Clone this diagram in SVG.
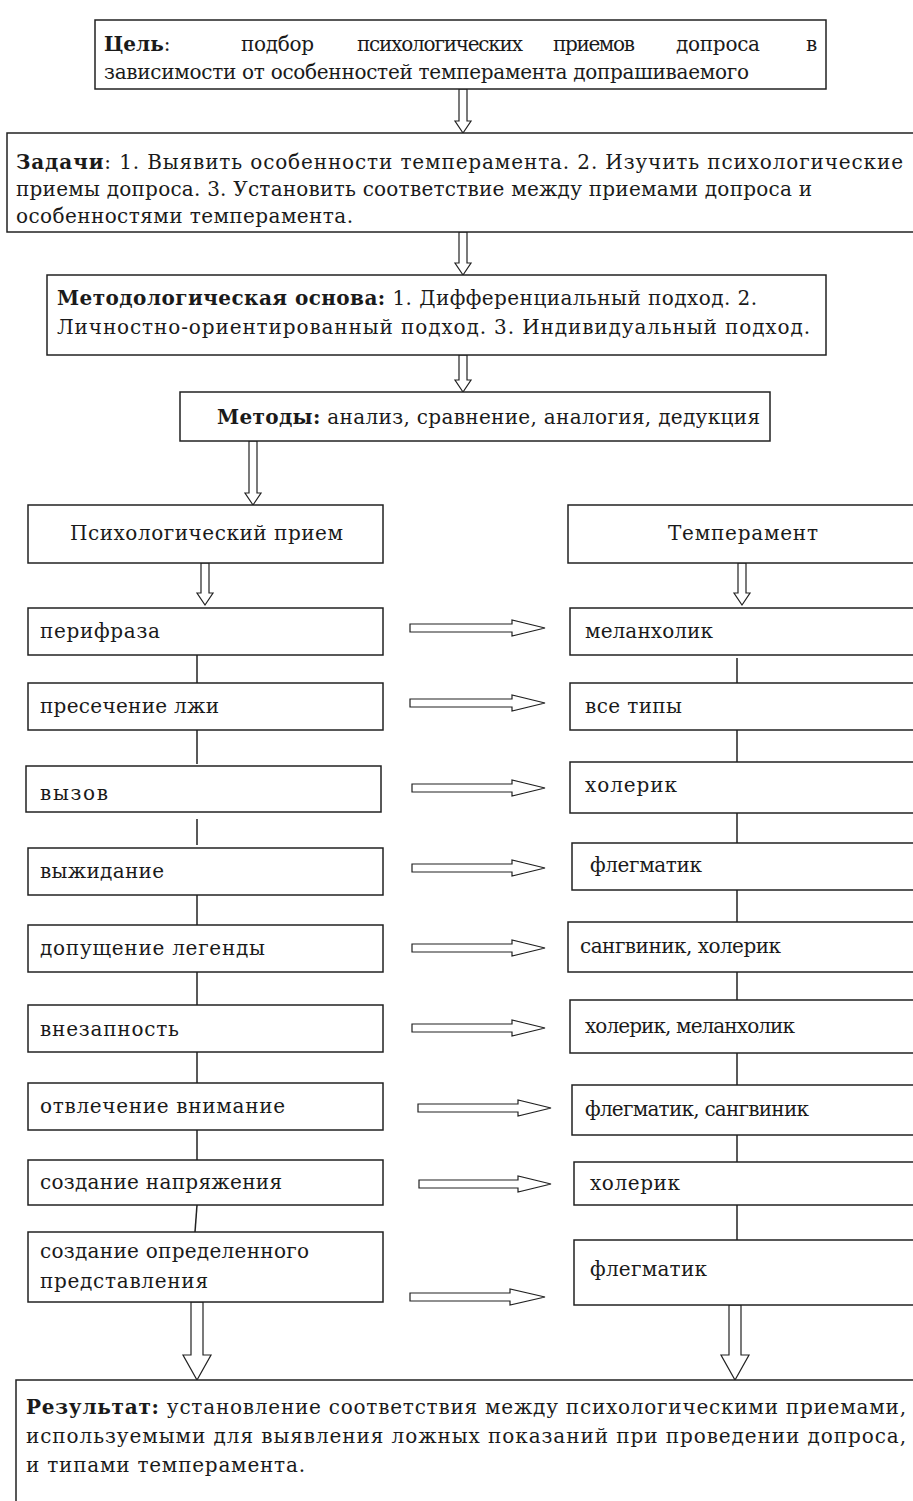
<svg xmlns="http://www.w3.org/2000/svg" width="913" height="1501" viewBox="0 0 913 1501">
<style>
.b{fill:#fff;stroke:#222;stroke-width:1.5}
.t{font-family:"DejaVu Serif","Liberation Serif",serif;font-size:20px;fill:#1a1a1a}
.bd{font-weight:bold}
.ar{fill:#fff;stroke:#222;stroke-width:1.2}
.ln{stroke:#222;stroke-width:1.5;fill:none}
</style>
<rect width="913" height="1501" fill="#fff"/>
<g id="connectors">
<polygon class="ar" points="459,89 467,89 467,121 471,121 463,133 455,121 459,121"/>
<polygon class="ar" points="459,232 467,232 467,263 471,263 463,275 455,263 459,263"/>
<polygon class="ar" points="459,355 467,355 467,380 471,380 463,392 455,380 459,380"/>
<polygon class="ar" points="249,441 257,441 257,493 261,493 253,505 245,493 249,493"/>
<polygon class="ar" points="201,563 209,563 209,593 213,593 205,605 197,593 201,593"/>
<polygon class="ar" points="738,563 746,563 746,593 750,593 742,605 734,593 738,593"/>
<polygon class="ar" points="410,624 512,624 512,620 545,628 512,636 512,632 410,632"/>
<polygon class="ar" points="410,699 512,699 512,695 545,703 512,711 512,707 410,707"/>
<polygon class="ar" points="412,784 512,784 512,780 545,788 512,796 512,792 412,792"/>
<polygon class="ar" points="412,864 512,864 512,860 545,868 512,876 512,872 412,872"/>
<polygon class="ar" points="412,944 512,944 512,940 545,948 512,956 512,952 412,952"/>
<polygon class="ar" points="412,1024 512,1024 512,1020 545,1028 512,1036 512,1032 412,1032"/>
<polygon class="ar" points="418,1104 518,1104 518,1100 551,1108 518,1116 518,1112 418,1112"/>
<polygon class="ar" points="419,1180 518,1180 518,1176 551,1184 518,1192 518,1188 419,1188"/>
<polygon class="ar" points="410,1293 510,1293 510,1289 545,1297 510,1305 510,1301 410,1301"/>
<polygon class="ar" points="191,1302 203,1302 203,1355 211,1355 197,1380 183,1355 191,1355"/>
<polygon class="ar" points="729,1305 741,1305 741,1355 749,1355 735,1380 721,1355 729,1355"/>
<line class="ln" x1="197" y1="655" x2="197" y2="683"/>
<line class="ln" x1="197" y1="730" x2="197" y2="764"/>
<line class="ln" x1="197" y1="819" x2="197" y2="845"/>
<line class="ln" x1="197" y1="895" x2="197" y2="925"/>
<line class="ln" x1="197" y1="972" x2="197" y2="1005"/>
<line class="ln" x1="197" y1="1052" x2="197" y2="1083"/>
<line class="ln" x1="197" y1="1130" x2="197" y2="1160"/>
<line class="ln" x1="197" y1="1205" x2="195" y2="1232"/>
<line class="ln" x1="737" y1="658" x2="737" y2="683"/>
<line class="ln" x1="737" y1="730" x2="737" y2="762"/>
<line class="ln" x1="737" y1="813" x2="737" y2="843"/>
<line class="ln" x1="737" y1="890" x2="737" y2="922"/>
<line class="ln" x1="737" y1="972" x2="737" y2="1000"/>
<line class="ln" x1="737" y1="1053" x2="737" y2="1085"/>
<line class="ln" x1="737" y1="1135" x2="737" y2="1162"/>
<line class="ln" x1="737" y1="1205" x2="737" y2="1240"/>
</g>
<g id="goal">
<rect class="b" x="95" y="20" width="731" height="69"/>
<text class="t" x="104" y="51"><tspan class="bd">Цель</tspan>:</text>
<text class="t" x="241" y="51" textLength="73">подбор</text>
<text class="t" x="357" y="51" textLength="166">психологических</text>
<text class="t" x="553" y="51" textLength="82">приемов</text>
<text class="t" x="676" y="51" textLength="84">допроса</text>
<text class="t" x="806" y="51">в</text>
<text class="t" x="104" y="79" textLength="645">зависимости от особенностей темперамента допрашиваемого</text>
</g>
<g id="tasks">
<rect class="b" x="7" y="133" width="920" height="99"/>
<text class="t" x="16" y="169" textLength="887"><tspan class="bd">Задачи</tspan>: 1. Выявить особенности темперамента.  2. Изучить психологические</text>
<text class="t" x="16" y="196" textLength="796">приемы допроса.  3. Установить соответствие между приемами допроса и</text>
<text class="t" x="16" y="223" textLength="337">особенностями темперамента.</text>
</g>
<g id="method-basis">
<rect class="b" x="47" y="275" width="779" height="80"/>
<text class="t" x="57" y="305" textLength="700"><tspan class="bd">Методологическая основа:</tspan> 1. Дифференциальный подход. 2.</text>
<text class="t" x="57" y="334" textLength="753">Личностно-ориентированный подход. 3. Индивидуальный подход.</text>
</g>
<g id="methods">
<rect class="b" x="180" y="392" width="590" height="49"/>
<text class="t" x="217" y="424" textLength="543"><tspan class="bd">Методы:</tspan> анализ, сравнение, аналогия, дедукция</text>
</g>
<g id="h-technique">
<rect class="b" x="28" y="505" width="355" height="58"/>
<text class="t" x="70" y="540" textLength="273">Психологический прием</text>
</g>
<g id="h-temperament">
<rect class="b" x="568" y="505" width="360" height="58"/>
<text class="t" x="668" y="540" textLength="150">Темперамент</text>
</g>
<g id="l1"><rect class="b" x="28" y="608" width="355" height="47"/><text class="t" x="40" y="638" textLength="120">перифраза</text></g>
<g id="l2"><rect class="b" x="28" y="683" width="355" height="47"/><text class="t" x="40" y="713" textLength="179">пресечение лжи</text></g>
<g id="l3"><rect class="b" x="26" y="766" width="355" height="46"/><text class="t" x="40" y="800" textLength="68">вызов</text></g>
<g id="l4"><rect class="b" x="28" y="848" width="355" height="47"/><text class="t" x="40" y="878" textLength="124">выжидание</text></g>
<g id="l5"><rect class="b" x="28" y="925" width="355" height="47"/><text class="t" x="40" y="955" textLength="225">допущение легенды</text></g>
<g id="l6"><rect class="b" x="28" y="1005" width="355" height="47"/><text class="t" x="40" y="1036" textLength="139">внезапность</text></g>
<g id="l7"><rect class="b" x="28" y="1083" width="355" height="47"/><text class="t" x="40" y="1113" textLength="245">отвлечение внимание</text></g>
<g id="l8"><rect class="b" x="28" y="1160" width="355" height="45"/><text class="t" x="40" y="1189" textLength="242">создание напряжения</text></g>
<g id="l9"><rect class="b" x="28" y="1232" width="355" height="70"/><text class="t" x="40" y="1258" textLength="269">создание определенного</text><text class="t" x="40" y="1288" textLength="168">представления</text></g>
<g id="r1"><rect class="b" x="570" y="608" width="360" height="47"/><text class="t" x="585" y="638" textLength="128">меланхолик</text></g>
<g id="r2"><rect class="b" x="570" y="683" width="360" height="47"/><text class="t" x="585" y="713" textLength="97">все типы</text></g>
<g id="r3"><rect class="b" x="570" y="762" width="360" height="51"/><text class="t" x="585" y="792" textLength="92">холерик</text></g>
<g id="r4"><rect class="b" x="572" y="843" width="360" height="47"/><text class="t" x="590" y="872" textLength="112">флегматик</text></g>
<g id="r5"><rect class="b" x="568" y="922" width="360" height="50"/><text class="t" x="580" y="953" textLength="201">сангвиник, холерик</text></g>
<g id="r6"><rect class="b" x="570" y="1000" width="360" height="53"/><text class="t" x="585" y="1033" textLength="210">холерик, меланхолик</text></g>
<g id="r7"><rect class="b" x="572" y="1085" width="360" height="50"/><text class="t" x="585" y="1116" textLength="224">флегматик, сангвиник</text></g>
<g id="r8"><rect class="b" x="574" y="1162" width="360" height="43"/><text class="t" x="590" y="1190" textLength="90">холерик</text></g>
<g id="r9"><rect class="b" x="574" y="1240" width="360" height="65"/><text class="t" x="590" y="1276" textLength="117">флегматик</text></g>
<g id="result">
<rect class="b" x="16" y="1380" width="920" height="140"/>
<text class="t" x="26" y="1414" textLength="880"><tspan class="bd">Результат:</tspan> установление соответствия между психологическими приемами,</text>
<text class="t" x="26" y="1443" textLength="880">используемыми для выявления ложных показаний при проведении допроса,</text>
<text class="t" x="26" y="1472" textLength="279">и типами темперамента.</text>
</g>
</svg>
